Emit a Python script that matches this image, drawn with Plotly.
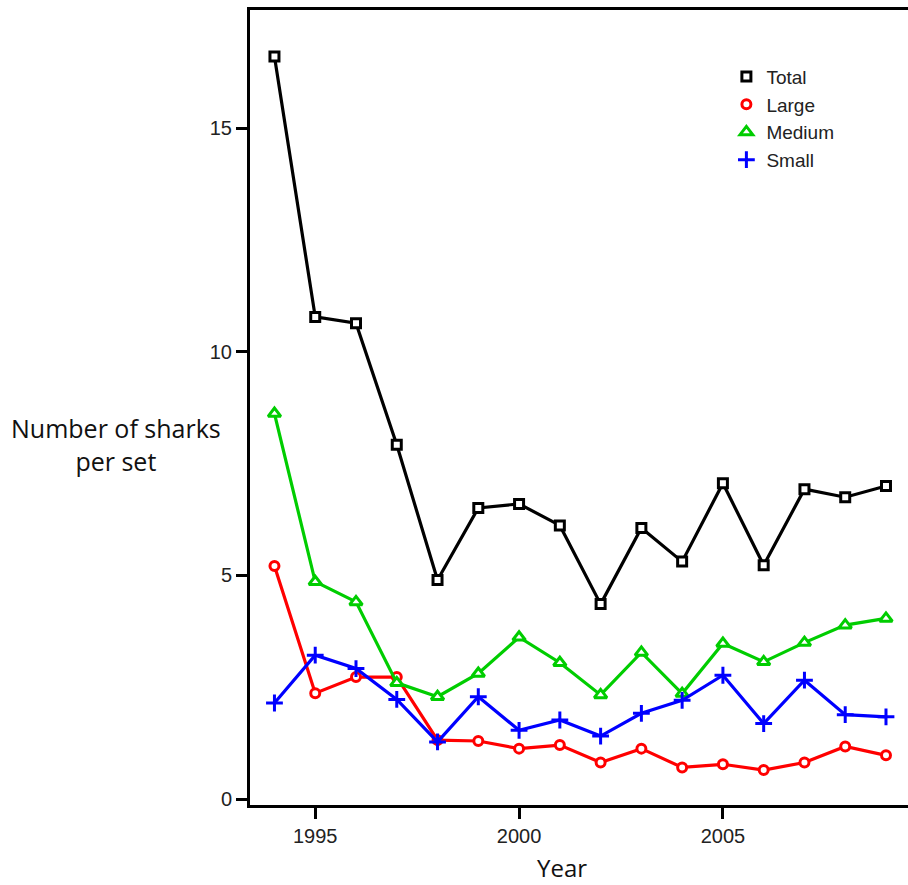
import plotly.graph_objects as go

years = list(range(1994, 2010))
total = [16.6, 10.78, 10.64, 7.92, 4.90, 6.51, 6.60, 6.12, 4.36, 6.06, 5.31, 7.06, 5.23, 6.93, 6.75, 7.00]
large = [5.21, 2.37, 2.73, 2.73, 1.32, 1.30, 1.13, 1.21, 0.82, 1.13, 0.71, 0.78, 0.65, 0.82, 1.18, 0.98]
medium = [8.62, 4.86, 4.41, 2.60, 2.29, 2.81, 3.62, 3.05, 2.33, 3.28, 2.36, 3.48, 3.07, 3.50, 3.89, 4.04]
small = [2.15, 3.22, 2.92, 2.23, 1.28, 2.29, 1.54, 1.77, 1.41, 1.92, 2.21, 2.77, 1.69, 2.66, 1.89, 1.84]

series_names = ["Total", "Large", "Medium", "Small"]
series_vals = [total, large, medium, small]
colors = ["#000000", "#FF0000", "#00CD00", "#0000FF"]
symbols = ["square", "circle", "triangle-up", "cross-thin"]
sizes = [9, 9, 11, 12]
xticks = [1995, 2000, 2005]
yticks = [0, 5, 10, 15]

fig = go.Figure()
for name, vals, c, sym, sz in zip(series_names, series_vals, colors, symbols, sizes):
    fill = c if sym == "cross-thin" else "white"
    fig.add_trace(go.Scatter(
        x=years, y=vals, mode="lines+markers", showlegend=False,
        line=dict(color=c, width=3.2),
        marker=dict(symbol=sym, size=sz, color=fill, line=dict(color=c, width=3)),
    ))
for name, c, sym, sz in zip(series_names, colors, symbols, sizes):
    fill = c if sym == "cross-thin" else "white"
    fig.add_trace(go.Scatter(
        x=[None], y=[None], mode="markers", name=name,
        marker=dict(symbol=sym, size=sz, color=fill, line=dict(color=c, width=3)),
    ))

fig.update_layout(
    width=908, height=885,
    margin=dict(l=250, r=0, t=10, b=80),
    plot_bgcolor="white", paper_bgcolor="white",
    font=dict(family="Liberation Sans, Arial, sans-serif", color="#222222", size=20),
    legend=dict(x=0.724, y=0.94, xanchor="left", yanchor="top",
                font=dict(size=19, color="#222222"), bgcolor="rgba(0,0,0,0)",
                tracegroupgap=0),
    xaxis=dict(range=[1993.4, 2009.54], tickvals=xticks, ticks="outside", ticklen=11,
               tickwidth=3, tickcolor="black", showline=True, linewidth=3, linecolor="black",
               mirror=True, showgrid=False, zeroline=False, tickfont=dict(size=20)),
    yaxis=dict(range=[-0.13, 17.64], tickvals=yticks, ticks="outside", ticklen=11,
               tickwidth=3, tickcolor="black", showline=True, linewidth=3, linecolor="black",
               showgrid=False, zeroline=False, tickfont=dict(size=20)),
    annotations=[
        dict(text="Number of sharks<br>per set", xref="paper", yref="paper",
             x=-0.204, y=0.453, xanchor="center", yanchor="middle", showarrow=False,
             font=dict(family="Open Sans, Noto Sans, sans-serif", size=25, color="#111111")),
        dict(text="Year", xref="paper", yref="paper", x=0.474, y=-0.079,
             xanchor="center", yanchor="middle", showarrow=False,
             font=dict(family="Open Sans, Noto Sans, sans-serif", size=24, color="#111111")),
    ],
)

fig.write_html("out.html", config={"displayModeBar": False},
               post_script="document.body.style.margin='0';document.body.style.overflow='hidden';")
